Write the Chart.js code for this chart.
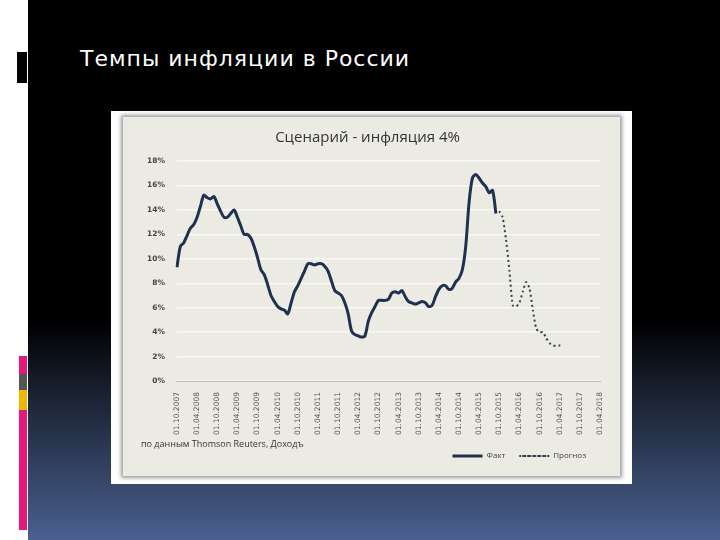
<!DOCTYPE html>
<html>
<head>
<meta charset="utf-8">
<script src="https://cdn.jsdelivr.net/npm/chart.js@4.4.1/dist/chart.umd.min.js"></script>
<style>
  body { margin: 0; width: 720px; height: 540px; overflow: hidden; position: relative;
         background: linear-gradient(to bottom, #000 0px, #000 320px, #1c2434 400px, #4a6090 540px);
         font-family: "DejaVu Sans", sans-serif; }
  #strip { position: absolute; left: 0; top: 0; width: 28px; height: 540px; background: #fff; }
  .mark { position: absolute; left: 19px; width: 8px; }
  #title { position: absolute; left: 80px; top: 46px; color: #fff; font-size: 22px; letter-spacing: 1px; }
  #card { position: absolute; left: 111px; top: 111px; width: 521px; height: 373px; background: #fff; }
  #panel { position: absolute; left: 123px; top: 117px; width: 497px; height: 359px; background: #ecebe3;
           box-shadow: 0 0 4px 2px #9a9a9a; }
  #src { position: absolute; left: 18px; top: 320px; font-family: "Open Sans", sans-serif; font-size: 9px; color: #333; }
  canvas { position: absolute; left: 0; top: 0; }
</style>
</head>
<body>
<div id="strip"></div>
<div class="mark" style="top:52px;height:31px;background:#000;left:17px;width:10px"></div>
<div class="mark" style="top:356px;height:18px;background:#e6197a"></div>
<div class="mark" style="top:374px;height:16px;background:#555"></div>
<div class="mark" style="top:390px;height:20px;background:#f2b600"></div>
<div class="mark" style="top:410px;height:120px;background:#e6197a"></div>
<div id="title">Темпы инфляции в России</div>
<div id="card"></div>
<div id="panel">
  <canvas id="c" width="497" height="359"></canvas>
  <div id="src">по данным Thomson Reuters, Доходъ</div>
</div>
<script>
const startYear = 2007, startMonth = 10, monthCount = 127;
const labels = [];
for (let i = 0; i < monthCount; i++) {
  const m = (startMonth - 1 + i) % 12 + 1;
  const y = startYear + Math.floor((startMonth - 1 + i) / 12);
  labels.push('01.' + String(m).padStart(2, '0') + '.' + y);
}

const fact = [
  9.3, 11.0, 11.3, 11.9, 12.5, 12.8, 13.4, 14.3, 15.2, 15.0, 14.9, 15.1,
  14.5, 13.9, 13.4, 13.4, 13.7, 14.0, 13.4, 12.7, 12.0, 12.0, 11.7, 11.0,
  10.1, 9.1, 8.7, 7.9, 7.0, 6.5, 6.1, 5.9, 5.8, 5.5, 6.4, 7.3,
  7.8, 8.4, 9.0, 9.6, 9.6, 9.5, 9.6, 9.6, 9.4, 9.0, 8.2, 7.4,
  7.2, 7.0, 6.4, 5.5, 4.1, 3.8, 3.7, 3.6, 3.7, 4.9, 5.6, 6.1,
  6.6, 6.6, 6.6, 6.7, 7.2, 7.3, 7.2, 7.4, 6.9, 6.5, 6.4, 6.3,
  6.4, 6.5, 6.4, 6.1, 6.2, 6.9, 7.5, 7.8, 7.8, 7.5, 7.6, 8.1,
  8.4, 9.1, 11.0, 14.6, 16.6, 16.9, 16.6, 16.2, 15.9, 15.4, 15.6, 13.7
];
const forecastStart = 96;
const forecastValues = [
  13.9, 13.4, 11.6, 9.1, 6.2, 6.1, 6.4, 7.3, 8.1, 7.6, 5.8, 4.3,
  4.0, 4.0, 3.5, 3.1, 2.9, 2.9, 2.9, 2.9
];
const forecast = new Array(forecastStart).fill(null).concat(forecastValues);

new Chart(document.getElementById('c'), {
  type: 'line',
  data: {
    labels: labels,
    datasets: [{
      label: 'Факт',
      data: fact,
      borderColor: '#1f3050',
      borderWidth: 3,
      pointRadius: 0,
      tension: 0.3
    }, {
      label: 'Прогноз',
      data: forecast,
      borderColor: '#3a4050',
      borderWidth: 2,
      borderDash: [2, 3],
      pointRadius: 0,
      tension: 0.2
    }]
  },
  options: {
    responsive: false,
    animation: false,
    layout: { padding: { left: 12, right: 20, top: 4, bottom: 6 } },
    plugins: {
      title: {
        display: true,
        text: 'Сценарий - инфляция 4%',
        color: '#333',
        font: { family: 'Open Sans', size: 15, weight: 'normal' },
        padding: { top: 8, bottom: 14 }
      },
      legend: {
        position: 'bottom',
        align: 'end',
        labels: {
          color: '#444',
          font: { family: 'Open Sans', size: 8 },
          boxWidth: 30,
          boxHeight: 0,
          padding: 14
        }
      }
    },
    scales: {
      x: {
        grid: { display: false },
        border: { color: '#bbb' },
        ticks: {
          autoSkip: false,
          maxRotation: 90,
          minRotation: 90,
          color: '#555',
          font: { family: 'DejaVu Sans', size: 7.5 },
          callback: function (v, i) { return i % 6 === 0 ? labels[i] : null; }
        }
      },
      y: {
        min: 0,
        max: 18,
        grid: { color: '#f8f8f4', lineWidth: 1.5, drawTicks: false },
        border: { display: false },
        ticks: {
          stepSize: 2,
          padding: 12,
          color: '#444',
          font: { family: 'DejaVu Sans', size: 7.5, weight: 'bold' },
          callback: function (v) { return v + '%'; }
        }
      }
    }
  }
});
</script>
</body>
</html>
